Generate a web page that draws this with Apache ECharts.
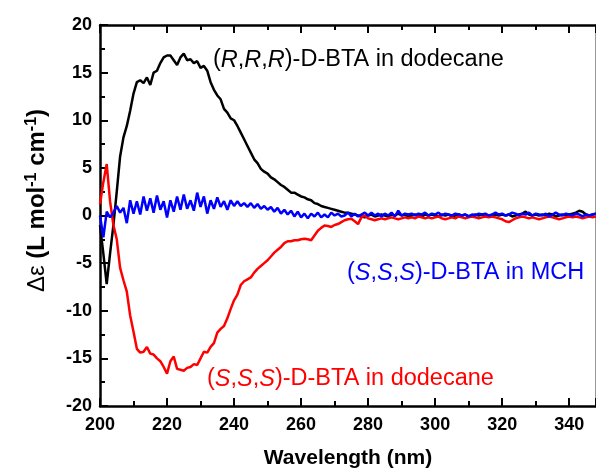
<!DOCTYPE html>
<html>
<head>
<meta charset="utf-8">
<script src="https://cdn.jsdelivr.net/npm/echarts@6/dist/echarts.min.js"></script>
<style>
html,body{margin:0;padding:0;background:#fff;}
#chart{width:596px;height:471px;}
</style>
</head>
<body>
<div id="chart"></div>
<script>
// Wavelength (nm)
var wavelengths = [
200,201,202,203,204,205,206,207,208,209,
210,211,212,213,214,215,216,217,218,219,
220,221,222,223,224,225,226,227,228,229,
230,231,232,233,234,235,236,237,238,239,
240,241,242,243,244,245,246,247,248,249,
250,251,252,253,254,255,256,257,258,259,
260,261,262,263,264,265,266,267,268,269,
270,271,272,273,274,275,276,277,278,279,
280,281,282,283,284,285,286,287,288,289,
290,291,292,293,294,295,296,297,298,299,
300,301,302,303,304,305,306,307,308,309,
310,311,312,313,314,315,316,317,318,319,
320,321,322,323,324,325,326,327,328,329,
330,331,332,333,334,335,336,337,338,339,
340,341,342,343,344,345,346,347,348
];
// (R,R,R)-D-BTA in dodecane
var rrrDodecane = [
-1.0,-4.0,-7.2,-4.0,-1.0,2.5,6.2,8.2,9.4,11.0,
12.8,14.0,14.2,13.9,14.5,13.7,15.0,15.2,16.0,16.6,
16.8,16.8,16.3,15.8,16.6,17.0,16.3,16.4,16.0,16.2,
15.5,15.7,15.2,14.0,13.2,12.6,12.2,11.2,10.8,10.2,
10.0,9.4,8.7,8.0,7.3,6.6,5.9,5.5,4.9,4.6,
4.4,4.0,3.8,3.5,3.2,3.0,2.7,2.4,2.4,2.2,
2.0,1.9,1.7,1.6,1.3,1.2,1.0,0.9,0.8,0.7,
0.6,0.5,0.4,0.3,0.3,0.2,0.1,0.0,-0.1,-0.2,
0.0,0.1,-0.1,0.0,0.1,0.0,-0.1,0.1,0.0,0.2,
0.0,0.1,-0.1,0.0,0.1,0.0,-0.1,0.1,0.0,0.1,
0.0,-0.1,0.1,0.0,0.1,-0.1,0.0,0.1,0.0,0.1,
-0.1,0.0,0.1,0.0,0.1,0.0,-0.1,0.0,0.1,0.0,
0.1,0.0,0.1,-0.1,0.0,0.1,0.2,0.4,0.1,0.0,
0.1,0.0,0.1,0.0,0.2,0.1,-0.1,0.0,0.1,0.0,
0.1,0.2,0.3,0.5,0.4,0.1,0.0,0.1,0.2
];
// (S,S,S)-D-BTA in dodecane
var sssDodecane = [
1.2,3.5,5.4,1.5,-1.0,-2.5,-5.5,-6.8,-8.0,-10.5,
-12.2,-14.0,-14.4,-14.3,-13.8,-14.5,-14.6,-15.0,-15.3,-15.9,
-16.6,-15.3,-14.8,-16.1,-16.2,-16.3,-16.0,-15.9,-15.6,-15.7,
-15.0,-14.3,-14.4,-13.8,-13.4,-12.3,-11.9,-11.6,-10.8,-9.8,
-8.9,-8.3,-7.3,-6.9,-6.7,-6.5,-6.0,-5.6,-5.3,-5.0,
-4.7,-4.3,-3.9,-3.6,-3.3,-2.9,-2.7,-2.7,-2.6,-2.6,
-2.5,-2.45,-2.5,-2.6,-2.1,-1.6,-1.3,-1.05,-1.1,-1.2,
-1.0,-0.9,-0.7,-0.5,-0.4,-0.35,-0.6,-0.9,-0.2,0.0,
-0.3,-0.4,-0.5,-0.4,-0.3,-0.4,-0.3,-0.2,-0.3,-0.4,
-0.3,-0.2,-0.3,-0.2,-0.3,-0.1,-0.2,-0.3,-0.2,-0.3,
-0.2,-0.1,-0.3,-0.4,-0.3,-0.2,-0.3,-0.1,-0.2,-0.3,
-0.2,-0.1,-0.2,-0.3,-0.2,-0.1,-0.2,-0.1,-0.2,-0.3,
-0.4,-0.6,-0.7,-0.5,-0.3,-0.2,-0.1,-0.2,-0.3,-0.2,
-0.3,-0.4,-0.3,-0.2,-0.1,-0.2,-0.3,-0.4,-0.3,-0.2,
-0.1,-0.2,-0.1,-0.2,-0.3,-0.2,-0.1,-0.2,-0.1
];
// (S,S,S)-D-BTA in MCH
var sssMCH = [
0.0,-2.3,0.4,-0.2,0.3,1.0,0.3,0.8,-0.8,1.6,
0.2,1.5,0.1,2.0,0.5,1.8,0.3,2.1,0.6,1.5,
-0.2,1.6,0.4,2.0,0.6,2.2,0.7,1.6,0.5,2.4,
0.9,2.0,0.2,1.6,0.7,1.9,0.9,1.5,0.6,1.6,
1.0,1.5,1.0,1.3,0.9,1.3,0.8,1.2,0.7,1.0,
0.6,0.9,0.4,0.8,0.2,0.6,0.1,0.5,-0.1,0.4,
-0.2,0.2,-0.3,0.2,-0.1,0.3,-0.2,0.1,-0.2,0.3,
0.0,0.2,-0.1,0.0,0.3,-0.1,0.2,-0.1,0.1,0.3,
0.0,0.3,0.0,0.2,-0.1,0.2,0.0,0.3,-0.1,0.5,
0.0,0.2,0.1,0.2,0.0,0.2,0.1,0.3,0.0,0.2,
0.1,0.3,0.0,0.2,0.1,0.0,0.2,0.1,0.0,0.1,
-0.1,0.1,0.0,0.2,0.1,0.2,0.0,0.1,0.3,0.1,
0.2,0.0,0.1,0.3,0.2,0.0,0.2,0.1,0.3,0.0,
0.2,0.1,0.0,0.2,-0.1,0.1,0.3,0.1,0.0,0.2,
0.1,0.0,0.2,0.1,-0.1,0.1,0.0,0.1,0.2
];
var xTicks = {min: 200, max: 348, interval: 20};
var yTicks = {min: -20, max: 20, interval: 5};

function pairs(xs, ys) {
  var out = [];
  for (var i = 0; i < xs.length; i++) out.push([xs[i], ys[i]]);
  return out;
}

var chart = echarts.init(document.getElementById('chart'));
var FONT = 'Liberation Sans, Arial, sans-serif';

function xAxisCfg(showLabels) {
  return {
    type: 'value',
    min: xTicks.min, max: xTicks.max, interval: xTicks.interval,
    position: showLabels ? 'bottom' : 'top',
    axisLine: {show: true, onZero: false, lineStyle: {color: '#000', width: 2.5}},
    axisTick: {show: true, inside: true, length: 8, lineStyle: {color: '#000', width: 2}},
    minorTick: {show: true, splitNumber: 2, length: 5, lineStyle: {color: '#000', width: 2}},
    splitLine: {show: false},
    axisLabel: {show: showLabels, showMaxLabel: false, color: '#000', fontFamily: FONT, fontWeight: 'bold', fontSize: 18, margin: 10},
    name: showLabels ? 'Wavelength (nm)' : '',
    nameLocation: 'middle',
    nameGap: 42,
    nameTextStyle: {color: '#000', fontFamily: FONT, fontWeight: 'bold', fontSize: 21}
  };
}

var option = {
  backgroundColor: '#fff',
  animation: false,
  grid: {left: 100, right: 0, top: 25, bottom: 65, outerBoundsMode: 'none'},
  xAxis: [xAxisCfg(true), xAxisCfg(false)],
  yAxis: [{
    type: 'value',
    min: yTicks.min, max: yTicks.max, interval: yTicks.interval,
    position: 'left',
    axisLine: {show: true, onZero: false, lineStyle: {color: '#000', width: 2.5}},
    axisTick: {show: true, inside: true, length: 8, lineStyle: {color: '#000', width: 2}},
    minorTick: {show: true, splitNumber: 2, length: 5, lineStyle: {color: '#000', width: 2}},
    splitLine: {show: false},
    axisLabel: {color: '#000', fontFamily: FONT, fontWeight: 'bold', fontSize: 18, margin: 8},
    name: '{g|Δε} (L mol{sup|-1} cm{sup|-1})',
    nameLocation: 'middle',
    nameGap: 49,
    nameTextStyle: {
      color: '#000', fontFamily: FONT, fontWeight: 'bold', fontSize: 24,
      padding: [0, 0, 0, 30],
      rich: {
        g: {fontFamily: FONT, fontWeight: 'normal', fontSize: 24, color: '#000'},
        sup: {fontFamily: FONT, fontWeight: 'bold', fontSize: 16, color: '#000', padding: [0, 0, 11, 0]}
      }
    }
  }, {
    type: 'value',
    min: yTicks.min, max: yTicks.max, interval: yTicks.interval,
    position: 'right',
    axisLine: {show: true, onZero: false, lineStyle: {color: '#999', width: 2}},
    axisTick: {show: false},
    axisLabel: {show: false},
    splitLine: {show: false}
  }],
  series: [
    {name: '(R,R,R)-D-BTA in dodecane', type: 'line', data: pairs(wavelengths, rrrDodecane),
     showSymbol: false, lineStyle: {color: '#000', width: 2.5}, itemStyle: {color: '#000'}},
    {name: '(S,S,S)-D-BTA in dodecane', type: 'line', data: pairs(wavelengths, sssDodecane),
     showSymbol: false, lineStyle: {color: '#ff0000', width: 2.5}, itemStyle: {color: '#ff0000'}},
    {name: '(S,S,S)-D-BTA in MCH', type: 'line', data: pairs(wavelengths, sssMCH),
     showSymbol: false, lineStyle: {color: '#0000ff', width: 2.5}, itemStyle: {color: '#0000ff'}}
  ],
  graphic: [
    {type: 'text', left: 213, top: 48, style: {
      text: '({i|R},{i|R},{i|R})-D-BTA in dodecane', fill: '#000', font: '23.5px ' + FONT,
      rich: {i: {fontStyle: 'italic', fontSize: 23.5, fontFamily: FONT, fill: '#000', color: '#000'}}}},
    {type: 'text', left: 347, top: 261, style: {
      text: '({i|S},{i|S},{i|S})-D-BTA in MCH', fill: '#0000ff', font: '23.5px ' + FONT,
      rich: {i: {fontStyle: 'italic', fontSize: 23.5, fontFamily: FONT, fill: '#0000ff', color: '#0000ff'}}}},
    {type: 'text', left: 207, top: 367, style: {
      text: '({i|S},{i|S},{i|S})-D-BTA in dodecane', fill: '#ff0000', font: '23.5px ' + FONT,
      rich: {i: {fontStyle: 'italic', fontSize: 23.5, fontFamily: FONT, fill: '#ff0000', color: '#ff0000'}}}}
  ]
};
chart.setOption(option);
</script>
</body>
</html>
